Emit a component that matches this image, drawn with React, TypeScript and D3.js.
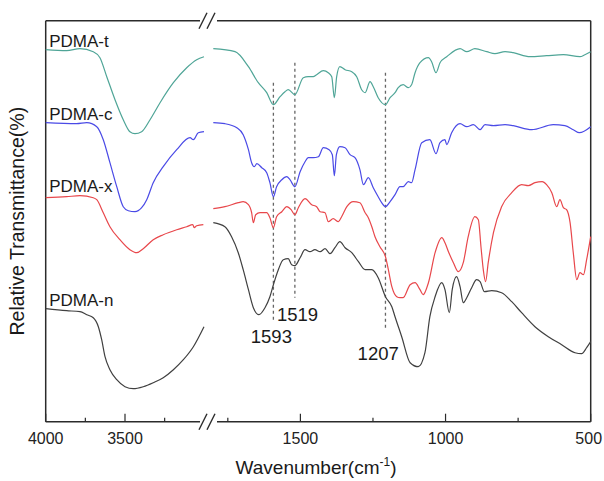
import React from 'react'
import * as d3 from 'd3'

// spectra: [wavenumber, relative transmittance (stacked, arbitrary units)]
const tLeft: [number, number][] = [
  [4000, 372], [3868, 371], [3784, 373], [3700, 370], [3658, 364], [3615, 345], [3563, 322],
  [3511, 302], [3469, 290], [3437, 288], [3395, 290], [3342, 302], [3279, 319], [3195, 339],
  [3111, 354], [3048, 362], [3002, 365],
]
const tRight: [number, number][] = [
  [1800, 373], [1725, 370], [1679, 355], [1645, 339], [1616, 329], [1593, 317], [1570, 325],
  [1553, 330], [1542, 332], [1519, 327], [1490, 344], [1473, 345], [1456, 345], [1444, 347],
  [1421, 351], [1404, 349], [1392, 345], [1383, 324], [1375, 345], [1364, 355], [1346, 352],
  [1323, 350], [1306, 345], [1289, 332], [1277, 329], [1260, 340], [1249, 335], [1232, 324],
  [1207, 317], [1191, 324], [1174, 329], [1163, 334], [1146, 337], [1128, 334], [1117, 337],
  [1105, 349], [1088, 359], [1059, 364], [1048, 360], [1033, 349], [1019, 359], [996, 365],
  [950, 373], [927, 370], [899, 373], [858, 370], [830, 368], [795, 370], [767, 369],
  [709, 365], [652, 366], [594, 367], [537, 365], [520, 367], [500, 370],
]
const cLeft: [number, number][] = [
  [4000, 299], [3805, 298], [3741, 299], [3678, 295], [3637, 282], [3595, 259], [3552, 235],
  [3511, 215], [3479, 211], [3437, 210], [3395, 214], [3363, 222], [3322, 239], [3259, 255],
  [3174, 272], [3090, 284], [3069, 282], [3038, 289], [3002, 290],
]
const cRight: [number, number][] = [
  [1800, 299], [1760, 298], [1719, 294], [1697, 287], [1679, 272], [1668, 259], [1659, 255],
  [1650, 258], [1633, 254], [1616, 249], [1605, 239], [1593, 225], [1582, 235], [1564, 242],
  [1547, 245], [1536, 242], [1519, 235], [1501, 250], [1484, 260], [1473, 264], [1456, 264],
  [1438, 265], [1421, 274], [1401, 272], [1390, 267], [1383, 246], [1376, 267], [1364, 275],
  [1346, 274], [1329, 267], [1312, 264], [1295, 252], [1283, 237], [1266, 244], [1249, 234],
  [1232, 225], [1220, 219], [1207, 215], [1191, 220], [1174, 227], [1157, 235], [1146, 235],
  [1128, 240], [1117, 239], [1105, 252], [1082, 279], [1054, 282], [1033, 268], [1019, 279],
  [1002, 282], [996, 277], [979, 289], [950, 298], [927, 295], [904, 297], [881, 292],
  [864, 297], [835, 296], [795, 297], [767, 296], [703, 292], [629, 297], [589, 296],
  [560, 292], [539, 289], [500, 295],
]
const xLeft: [number, number][] = [
  [4000, 224], [3868, 225], [3784, 226], [3700, 224], [3678, 222], [3637, 209], [3595, 195],
  [3532, 182], [3469, 172], [3426, 169], [3385, 173], [3322, 182], [3259, 187], [3174, 192],
  [3111, 195], [3073, 197], [3063, 194], [3048, 196], [3006, 197],
]
const xRight: [number, number][] = [
  [1800, 213], [1760, 215], [1714, 219], [1697, 220], [1679, 217], [1668, 209], [1662, 199],
  [1654, 207], [1639, 209], [1616, 209], [1605, 204], [1593, 194], [1582, 205], [1564, 210],
  [1547, 215], [1532, 212], [1519, 207], [1507, 214], [1484, 223], [1461, 217], [1444, 215],
  [1432, 210], [1415, 209], [1404, 200], [1387, 203], [1369, 200], [1358, 205], [1340, 215],
  [1318, 220], [1295, 219], [1277, 209], [1266, 204], [1254, 195], [1243, 185], [1226, 175],
  [1207, 165], [1197, 152], [1185, 135], [1168, 125], [1157, 124], [1146, 124], [1122, 137],
  [1105, 139], [1088, 132], [1077, 127], [1059, 139], [1036, 169], [1013, 184], [1002, 179],
  [990, 170], [973, 159], [956, 150], [939, 159], [922, 185], [899, 205], [887, 202],
  [878, 175], [870, 152], [862, 140], [853, 159], [835, 189], [807, 215], [772, 229],
  [738, 237], [715, 236], [692, 239], [667, 240], [652, 237], [634, 229], [617, 215],
  [606, 222], [594, 214], [583, 212], [571, 199], [560, 169], [548, 142], [537, 149],
  [525, 147], [514, 162], [500, 185],
]
const nLeft: [number, number][] = [
  [4000, 113], [3868, 111], [3784, 110], [3741, 107], [3700, 104], [3668, 95], [3647, 82],
  [3626, 65], [3595, 52], [3552, 42], [3500, 35], [3448, 33], [3385, 35], [3322, 39],
  [3259, 44], [3195, 52], [3132, 62], [3069, 75], [3002, 95],
]
const nRight: [number, number][] = [
  [1800, 199], [1760, 195], [1737, 185], [1714, 169], [1697, 152], [1679, 132], [1662, 114],
  [1643, 107], [1622, 114], [1605, 125], [1593, 137], [1576, 152], [1559, 162], [1542, 163],
  [1530, 157], [1519, 156], [1501, 164], [1484, 172], [1467, 170], [1450, 172], [1432, 170],
  [1415, 173], [1398, 168], [1381, 174], [1364, 180], [1346, 174], [1323, 169], [1300, 160],
  [1277, 152], [1254, 152], [1232, 144], [1207, 125], [1185, 115], [1174, 105], [1151, 85],
  [1122, 59], [1094, 55], [1071, 69], [1054, 105], [1036, 125], [1013, 139], [1002, 132],
  [987, 109], [977, 132], [962, 145], [950, 135], [939, 119], [927, 124], [910, 134],
  [893, 142], [881, 140], [866, 130], [841, 131], [807, 129], [772, 120], [738, 109],
  [692, 95], [646, 85], [600, 77], [554, 69], [531, 68], [514, 74], [500, 80],
]

const seriesNames = ['PDMA-t', 'PDMA-c', 'PDMA-x', 'PDMA-n']
const seriesColors = ['#4fa597', '#4a4ae6', '#e8474b', '#404040']
const seriesData = [
  [tLeft, tRight],
  [cLeft, cRight],
  [xLeft, xRight],
  [nLeft, nRight],
]
const labelY = [375, 302, 230, 116]

// marked peaks [wavenumber, top, bottom]
const peaks: [number, number, number][] = [
  [1593, 339, 102],
  [1519, 359, 124],
  [1207, 349, 94],
]
const peakLabelPos: [number, number][] = [
  [1600, 79],
  [1510, 101],
  [1232, 62],
]

const leftMajor = [4000, 3500]
const leftMinor = [3750, 3250]
const rightMajor = [1500, 1000, 500]
const rightMinor = [1750, 1250, 750]

const W = 604
const H = 481
const top = 20.7
const bottom = 421.7
const left = 45.7
const right = 590.7

export default function App() {
  const xL = d3.scaleLinear().domain([4000, 3000]).range([left, 204.3])
  const xR = d3.scaleLinear().domain([1800, 500]).range([213.3, right])
  const y = d3.scaleLinear().domain([0, 400]).range([bottom, bottom - 400])

  const lineL = d3
    .line<[number, number]>()
    .x((d) => xL(d[0]))
    .y((d) => y(d[1]))
    .curve(d3.curveMonotoneX)
  const lineR = d3
    .line<[number, number]>()
    .x((d) => xR(d[0]))
    .y((d) => y(d[1]))
    .curve(d3.curveMonotoneX)

  const axisColor = '#2b2b2b'
  const font = '"Liberation Sans", Arial, sans-serif'
  const gapStart = 200
  const gapEnd = 217

  const slashes = (yy: number, key: string) => (
    <g key={key} stroke={axisColor} strokeWidth={1.4}>
      <line x1={gapStart - 1} y1={yy + 8} x2={gapStart + 7} y2={yy - 8} />
      <line x1={gapStart + 7} y1={yy + 8} x2={gapStart + 15} y2={yy - 8} />
    </g>
  )

  return (
    <>
      <style>{'body{margin:0}'}</style>
      <svg width={W} height={H} style={{ display: 'block', background: '#fff' }}>
        {/* frame */}
        <g stroke={axisColor} strokeWidth={1.5} fill="none">
          <line x1={left} y1={top} x2={left} y2={bottom} />
          <line x1={right} y1={top} x2={right} y2={bottom} />
          <line x1={left} y1={top} x2={gapStart} y2={top} />
          <line x1={gapEnd} y1={top} x2={right} y2={top} />
          <line x1={left} y1={bottom} x2={gapStart} y2={bottom} />
          <line x1={gapEnd} y1={bottom} x2={right} y2={bottom} />
        </g>
        {slashes(top, 'st')}
        {slashes(bottom, 'sb')}

        {/* ticks */}
        <g stroke={axisColor} strokeWidth={1.2}>
          {leftMajor.map((v) => (
            <line key={'lM' + v} x1={xL(v)} x2={xL(v)} y1={bottom} y2={bottom - 8} />
          ))}
          {leftMinor.map((v) => (
            <line key={'lm' + v} x1={xL(v)} x2={xL(v)} y1={bottom} y2={bottom - 4} />
          ))}
          {rightMajor.map((v) => (
            <line key={'rM' + v} x1={xR(v)} x2={xR(v)} y1={bottom} y2={bottom - 8} />
          ))}
          {rightMinor.map((v) => (
            <line key={'rm' + v} x1={xR(v)} x2={xR(v)} y1={bottom} y2={bottom - 4} />
          ))}
        </g>
        <g fontFamily={font} fontSize={16} fill="#222" textAnchor="middle">
          {leftMajor.map((v) => (
            <text key={'lt' + v} x={xL(v)} y={444}>
              {v}
            </text>
          ))}
          {rightMajor.map((v) => (
            <text key={'rt' + v} x={xR(v) - (v === 500 ? 2 : 0)} y={444}>
              {v}
            </text>
          ))}
        </g>

        {/* dashed peak markers */}
        <g stroke="#666" strokeWidth={1.3} strokeDasharray="3,3">
          {peaks.map((p) => (
            <line key={'p' + p[0]} x1={xR(p[0])} x2={xR(p[0])} y1={y(p[1])} y2={y(p[2])} />
          ))}
        </g>

        {/* spectra */}
        {seriesData.map((segs, i) => (
          <g key={seriesNames[i]} fill="none" stroke={seriesColors[i]} strokeWidth={1.2}>
            <path d={lineL(segs[0]) || ''} />
            <path d={lineR(segs[1]) || ''} />
          </g>
        ))}

        {/* labels */}
        <g fontFamily={font} fontSize={17} fill="#1a1a1a">
          {seriesNames.map((n, i) => (
            <text key={'lab' + n} x={xL(4000) + 3.5} y={y(labelY[i])}>
              {n}
            </text>
          ))}
        </g>
        <g fontFamily={font} fontSize={18.5} fill="#1a1a1a" textAnchor="middle">
          {peaks.map((p, i) => (
            <text key={'pl' + p[0]} x={xR(peakLabelPos[i][0])} y={y(peakLabelPos[i][1])}>
              {p[0]}
            </text>
          ))}
        </g>
        <text
          fontFamily={font}
          fontSize={19.5}
          fill="#1a1a1a"
          textAnchor="middle"
          transform={`translate(24,${(top + bottom) / 2}) rotate(-90)`}
        >
          Relative Transmittance(%)
        </text>
        <text fontFamily={font} fontSize={19} fill="#1a1a1a" textAnchor="middle" x={316} y={474}>
          Wavenumber(cm
          <tspan fontSize={12} dy={-8}>
            -1
          </tspan>
          <tspan dy={8}>)</tspan>
        </text>
      </svg>
    </>
  )
}
